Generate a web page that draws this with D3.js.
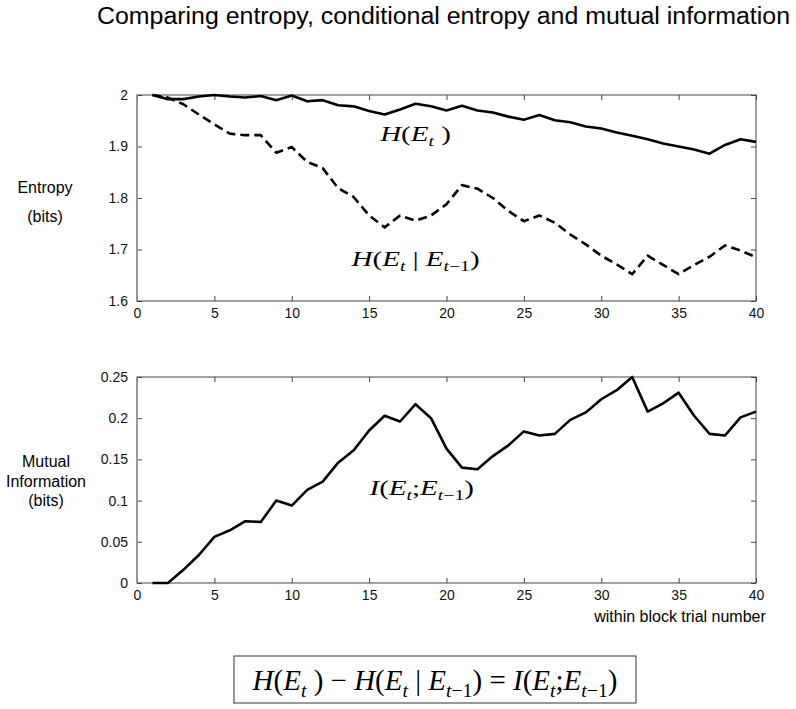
<!DOCTYPE html>
<html>
<head>
<meta charset="utf-8">
<script src="https://cdn.jsdelivr.net/npm/d3@7"></script>
<style>
  body { margin: 0; background: #fff; }
  svg { display: block; }
  .tick text { font-family: "Liberation Sans", Arial, sans-serif; font-size: 14px; fill: #111; }
  .tick line { stroke: #444; }
  .domain { stroke: none; }
</style>
</head>
<body>
<div id="chart"></div>
<script>
// trial numbers 1..40
const trials = [1,2,3,4,5,6,7,8,9,10,11,12,13,14,15,16,17,18,19,20,
                21,22,23,24,25,26,27,28,29,30,31,32,33,34,35,36,37,38,39,40];

// H(E_t)
const entropy = [2.000,1.992,1.992,1.997,2.000,1.997,1.995,1.998,1.990,1.999,
                 1.988,1.990,1.980,1.978,1.969,1.962,1.972,1.983,1.978,1.970,
                 1.979,1.970,1.966,1.958,1.952,1.961,1.951,1.947,1.939,1.935,
                 1.927,1.921,1.914,1.906,1.900,1.894,1.886,1.903,1.914,1.909];

// H(E_t | E_t-1)
const condEntropy = [2.000,1.995,1.982,1.962,1.943,1.925,1.922,1.922,1.888,1.899,
                     1.870,1.858,1.819,1.802,1.766,1.743,1.766,1.756,1.766,1.788,
                     1.825,1.818,1.800,1.775,1.755,1.766,1.752,1.729,1.710,1.688,
                     1.671,1.652,1.688,1.670,1.652,1.670,1.686,1.708,1.698,1.685];

// I(E_t ; E_t-1)
const mutualInfo = [0.000,0.000,0.016,0.034,0.056,0.064,0.075,0.074,0.100,0.094,
                    0.113,0.123,0.146,0.161,0.185,0.203,0.196,0.217,0.200,0.163,
                    0.140,0.138,0.154,0.167,0.184,0.179,0.181,0.198,0.207,0.223,
                    0.234,0.250,0.208,0.218,0.231,0.203,0.181,0.179,0.201,0.208];

const xTicks = [0,5,10,15,20,25,30,35,40];
const topTicks = [1.6,1.7,1.8,1.9,2];
const bottomTicks = [0,0.05,0.1,0.15,0.2,0.25];

const W = 796, H = 709;
const left = 137, right = 756;

const svg = d3.select("#chart").append("svg")
    .attr("width", W)
    .attr("height", H);

const x = d3.scaleLinear().domain([0, 40]).range([left, right]);
const yTop = d3.scaleLinear().domain([1.6, 2]).range([301, 95]);
const yBot = d3.scaleLinear().domain([0, 0.25]).range([583, 377]);

const sans = "'Liberation Sans', Arial, sans-serif";
const serif = "'Liberation Serif', 'Times New Roman', serif";

// boxed panel, ticks pointing inward on all four sides
function drawPanel(y, yTickVals, fmt) {
    const [y0, y1] = y.range();
    const g = svg.append("g");

    g.append("g")
        .attr("transform", `translate(0,${y0})`)
        .call(d3.axisBottom(x).tickValues(xTicks).tickSizeInner(-5).tickSizeOuter(0).tickPadding(9))
        .selectAll(".tick text").attr("dy", "0.6em");

    g.append("g")
        .attr("transform", `translate(0,${y1})`)
        .call(d3.axisTop(x).tickValues(xTicks).tickSizeInner(-5).tickSizeOuter(0).tickFormat(""));

    g.append("g")
        .attr("transform", `translate(${left},0)`)
        .call(d3.axisLeft(y).tickValues(yTickVals).tickSizeInner(-5).tickSizeOuter(0).tickPadding(9).tickFormat(fmt));

    g.append("g")
        .attr("transform", `translate(${right},0)`)
        .call(d3.axisRight(y).tickValues(yTickVals).tickSizeInner(-5).tickSizeOuter(0).tickFormat(""));

    g.append("rect")
        .attr("x", left)
        .attr("y", y1)
        .attr("width", right - left)
        .attr("height", y0 - y1)
        .attr("fill", "none")
        .attr("stroke", "#444")
        .attr("stroke-width", 1);
    g.append("line")
        .attr("x1", left).attr("x2", left)
        .attr("y1", y1).attr("y2", y0)
        .attr("stroke", "#999")
        .attr("stroke-width", 1.5);
}

drawPanel(yTop, topTicks, d => d === 2 ? "2" : d3.format(".1f")(d));
drawPanel(yBot, bottomTicks, d => d === 0 ? "0" : String(+d.toFixed(2)));

function addLine(values, y, dash) {
    const line = d3.line()
        .x((d, i) => x(trials[i]))
        .y(d => y(d));
    svg.append("path")
        .datum(values)
        .attr("fill", "none")
        .attr("stroke", "#000")
        .attr("stroke-width", 2.6)
        .attr("stroke-linejoin", "round")
        .attr("stroke-dasharray", dash || null)
        .attr("d", line);
}

addLine(entropy, yTop);
addLine(condEntropy, yTop, "9,5");
addLine(mutualInfo, yBot);

// math label: parts are [text, kind], i=italic, r=roman, s=subscript italic, n=subscript roman
function mathText(cx, cy, parts, size, sx) {
    const g = svg.append("g")
        .attr("transform", `translate(${cx},${cy}) scale(${sx || 1},1)`);
    const t = g.append("text")
        .attr("x", 0)
        .attr("y", 0)
        .attr("text-anchor", "middle")
        .style("font-family", serif)
        .style("font-size", size + "px")
        .attr("fill", "#000");
    let sub = false;
    parts.forEach(([txt, kind]) => {
        const isSub = kind === "s" || kind === "n";
        let dy = 0;
        if (isSub && !sub) dy = size * 0.25;
        if (!isSub && sub) dy = -size * 0.25;
        sub = isSub;
        t.append("tspan")
            .attr("dy", dy)
            .style("font-style", (kind === "i" || kind === "s") ? "italic" : "normal")
            .style("font-size", isSub ? (size * 0.68) + "px" : null)
            .text(txt);
    });
    return t;
}

const HE = [["H", "i"], ["(", "r"], ["E", "i"], ["t", "s"], [" )", "r"]];
const HC = [["H", "i"], ["(", "r"], ["E", "i"], ["t", "s"], [" | ", "r"], ["E", "i"], ["t", "s"], ["\u22121", "n"], [")", "r"]];
const IE = [["I", "i"], ["(", "r"], ["E", "i"], ["t", "s"], [";", "r"], ["E", "i"], ["t", "s"], ["\u22121", "n"], [")", "r"]];

mathText(x(18), yTop(1.911), HE, 22, 1.32);
mathText(x(18), yTop(1.668), HC, 22, 1.32);
mathText(x(18.4), yBot(0.107), IE, 22, 1.32);

// formula box
svg.append("rect")
    .attr("x", 234)
    .attr("y", 656)
    .attr("width", 402)
    .attr("height", 47)
    .attr("fill", "none")
    .attr("stroke", "#333")
    .attr("stroke-width", 1);
mathText(435, 690, [].concat(HE, [[" \u2212 ", "r"]], HC, [[" = ", "r"]], IE), 29);

// title
svg.append("text")
    .attr("x", 97)
    .attr("y", 24)
    .attr("textLength", 693)
    .attr("lengthAdjust", "spacingAndGlyphs")
    .style("font-family", sans)
    .style("font-size", "23px")
    .text("Comparing entropy, conditional entropy and mutual information");

// y labels
function sideLabel(lines, cx, ys) {
    lines.forEach((s, i) => {
        svg.append("text")
            .attr("x", cx)
            .attr("y", ys[i])
            .attr("text-anchor", "middle")
            .style("font-family", sans)
            .style("font-size", "16px")
            .text(s);
    });
}
sideLabel(["Entropy", "(bits)"], 45, [193, 222]);
sideLabel(["Mutual", "Information", "(bits)"], 46, [467, 487, 506]);

// x label
svg.append("text")
    .attr("x", 680)
    .attr("y", 622)
    .attr("text-anchor", "middle")
    .style("font-family", sans)
    .style("font-size", "16px")
    .text("within block trial number");
</script>
</body>
</html>
